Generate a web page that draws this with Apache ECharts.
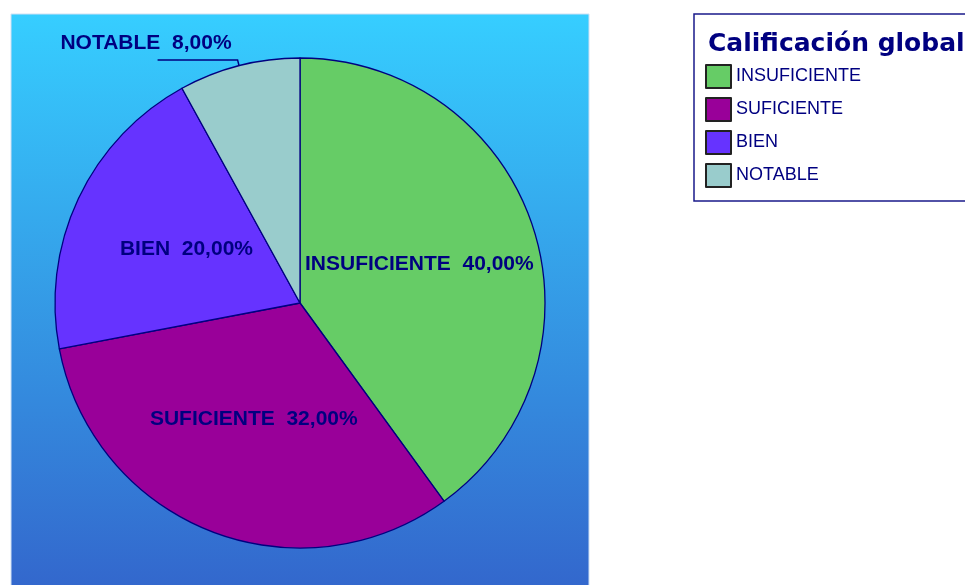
<!DOCTYPE html>
<html>
<head>
<meta charset="utf-8">
<script src="https://cdn.jsdelivr.net/npm/echarts@6/dist/echarts.min.js"></script>
<style>
  html, body { margin: 0; padding: 0; background: #fff; }
  #chart { width: 965px; height: 585px; }
</style>
</head>
<body>
<div id="chart"></div>
<script>
// datos de la calificación global
const categories = ['INSUFICIENTE', 'SUFICIENTE', 'BIEN', 'NOTABLE'];
const values = [40, 32, 20, 8];
const colors = ['#66CC66', '#990099', '#6633FF', '#99CCCC'];
const legendTitle = 'Calificación global';

const chart = echarts.init(document.getElementById('chart'), null, { renderer: 'canvas' });

const fmtPct = p => p.name + '  ' + p.percent.toFixed(2).replace('.', ',') + '%';

const seriesData = categories.map((name, i) => {
  const item = { name: name, value: values[i], itemStyle: { color: colors[i] } };
  // la porción pequeña lleva la etiqueta fuera, encima de la línea guía
  if (name === 'NOTABLE') {
    item.label = {
      position: 'outside',
      distanceToLabelLine: -74,
      formatter: p => '{t|' + fmtPct(p) + '}\n{s| }',
      rich: {
        t: { lineHeight: 22 },
        s: { height: 34, lineHeight: 34, fontSize: 2 }
      }
    };
    item.labelLine = {
      show: true,
      length: 6,
      length2: 80,
      lineStyle: { color: '#000080', width: 1.5 }
    };
  }
  return item;
});

const option = {
  animation: false,
  backgroundColor: '#fff',
  graphic: [
    {
      type: 'rect',
      z: -10,
      silent: true,
      shape: { x: 11, y: 14, width: 578, height: 580 },
      style: {
        fill: new echarts.graphic.LinearGradient(0, 0, 0, 1, [
          { offset: 0, color: '#36CEFF' },
          { offset: 1, color: '#3366CC' }
        ]),
        stroke: '#cfe0f4',
        lineWidth: 1
      }
    }
  ],
  title: {
    text: legendTitle,
    left: 703,
    top: 27,
    z: 10,
    textStyle: {
      fontFamily: 'DejaVu Sans',
      fontWeight: 'bold',
      fontSize: 25,
      color: '#000080'
    }
  },
  legend: {
    orient: 'vertical',
    left: 694,
    top: 14,
    padding: [50, 140, 13, 11],
    backgroundColor: '#fff',
    borderColor: '#1a1a8a',
    borderWidth: 1.5,
    data: categories,
    icon: 'rect',
    itemWidth: 25,
    itemHeight: 23,
    itemGap: 8,
    selectedMode: false,
    itemStyle: { borderColor: '#222', borderWidth: 2 },
    textStyle: {
      fontFamily: 'Liberation Sans, Arial, sans-serif',
      fontSize: 18,
      lineHeight: 20,
      color: '#000080'
    }
  },
  series: [
    {
      type: 'pie',
      center: [300, 303],
      radius: 245,
      startAngle: 90,
      clockwise: true,
      avoidLabelOverlap: false,
      emphasis: { disabled: true },
      itemStyle: { borderColor: '#000080', borderWidth: 1.3 },
      label: {
        show: true,
        position: 'inside',
        fontFamily: 'Liberation Sans, Arial, sans-serif',
        fontWeight: 'bold',
        fontSize: 21,
        color: '#000080',
        formatter: fmtPct
      },
      labelLine: { show: false },
      data: seriesData
    }
  ]
};

chart.setOption(option);
</script>
</body>
</html>
